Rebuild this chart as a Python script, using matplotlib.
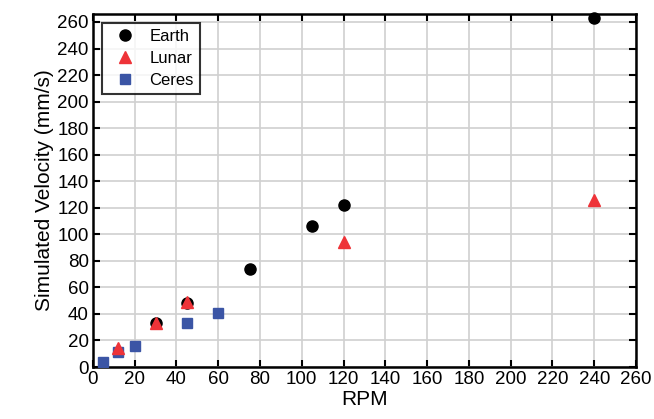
import numpy as np
import matplotlib.pyplot as plt

plt.rcParams['font.family'] = ['Liberation Sans', 'DejaVu Sans']

# data
earth_rpm = [30, 45, 75, 105, 120, 240]
earth_vel = [33, 48, 74, 106, 122, 263]
lunar_rpm = [12, 30, 45, 120, 240]
lunar_vel = [14, 33, 49, 94, 126]
ceres_rpm = [5, 12, 20, 45, 60]
ceres_vel = [4, 11, 16, 33, 41]

fig = plt.figure(figsize=(6.54, 4.19), dpi=100)
ax = fig.add_axes([0.142, 0.124, 0.8305, 0.8426])

ax.plot(earth_rpm, earth_vel, 'o', color='black', markersize=8, label='Earth', clip_on=False, zorder=3)
ax.plot(lunar_rpm, lunar_vel, '^', color='#ee3338', markersize=8, label='Lunar', zorder=4)
ax.plot(ceres_rpm, ceres_vel, 's', color='#3b55a5', markersize=6.5, label='Ceres', zorder=3)

ax.set_xlim(0, 260)
ax.set_ylim(0, 266)
ax.set_xticks(np.arange(0, 261, 20))
ax.set_yticks(np.arange(0, 261, 20))
ax.grid(True, color='#d0d0d0', linewidth=1.2)
ax.set_axisbelow(True)
ax.tick_params(direction='in', top=True, right=True, length=5, width=1.5,
               labelsize=13.5, pad=3)
for s in ax.spines.values():
    s.set_linewidth(1.8)

ax.set_xlabel('RPM', fontsize=15, labelpad=1)
ax.set_ylabel('Simulated Velocity (mm/s)', fontsize=15, labelpad=2)

leg = ax.legend(loc='upper left', fontsize=12, frameon=True, fancybox=False,
                edgecolor='black', borderaxespad=0.55, handletextpad=0.5,
                labelspacing=0.42, borderpad=0.35)
leg.get_frame().set_linewidth(1.5)

fig.savefig('out.png', dpi=100)
